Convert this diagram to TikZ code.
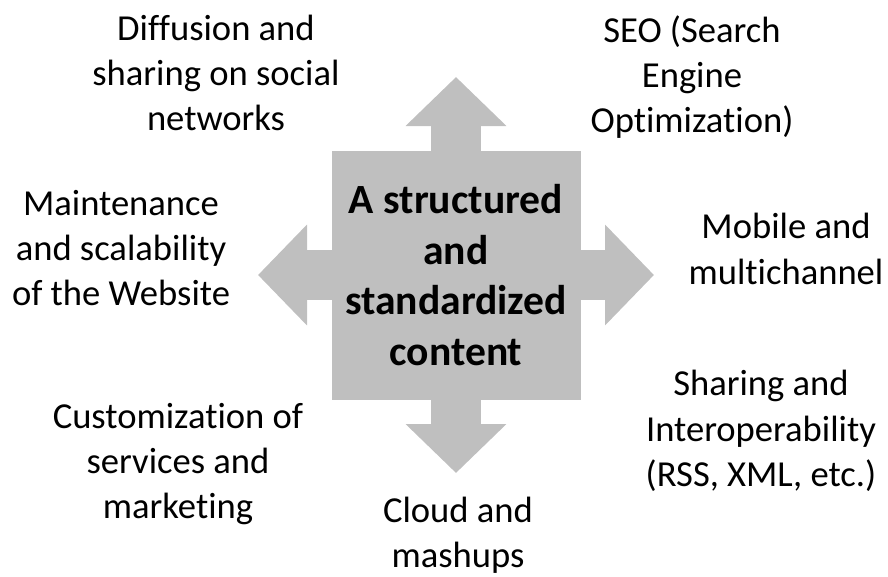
\documentclass[tikz,border=0pt]{standalone}
\usepackage{fontspec}
\setmainfont{Carlito}[Ligatures=NoCommon]
\usetikzlibrary{positioning, arrows.meta}
\definecolor{boxgray}{HTML}{BFBFBF}
\tikzset{
core/.style={fill=boxgray, minimum size=249pt, inner sep=0pt, align=center,
  font=\fontsize{41.6}{50.7}\selectfont\bfseries}, % the grey square in the middle
topic/.style={align=center, font=\fontsize{36.6}{45.3}\selectfont}, % the texts around it
bigarrow/.style={boxgray, line width=50pt, shorten <=-2pt,
  -{Triangle[length=49pt, width=98pt]}}, % the wide block arrows
}

\begin{document}
\begin{tikzpicture}[x=1pt, y=-1pt]
\useasboundingbox (0,0) rectangle (888,576);
\node[core] (core) at (456,275) {A structured\\and\\standardized\\content};
\coordinate (tipN) at (456,77);
\coordinate (tipS) at (456,473);
\coordinate (tipW) at (258,275);
\coordinate (tipE) at (654,275);
\foreach \t in {tipN,tipS,tipW,tipE}
  \draw[bigarrow] (core) -- (\t);

\node[topic] (diffusion) at (216,73) {Diffusion and\\sharing on social\\networks};
\node[topic] (seo) at (692,77) {SEO (Search\\Engine\\Optimization)};
\node[topic] (maint) at (121,248) {Maintenance\\and scalability\\of the Website};
\node[topic] (mobile) at (786,249) {Mobile and\\multichannel};
\node[topic] (sharing) at (761,431) {Sharing and\\Interoperability\\(RSS, XML, etc.)};
\node[topic] (custom) at (178,464) {Customization of\\services and\\marketing};
\node[topic] (cloud) at (458,535) {Cloud and\\mashups};
\end{tikzpicture}
\end{document}
